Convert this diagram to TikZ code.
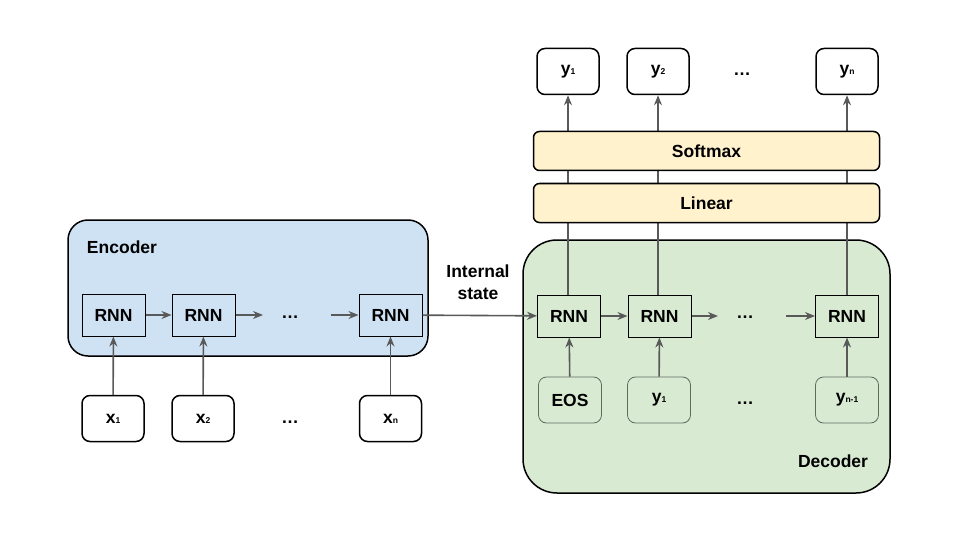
\documentclass[tikz,border=0pt]{standalone}
\usepackage{fontspec}
\setmainfont{Liberation Sans}
\usetikzlibrary{arrows.meta}
\definecolor{encfill}{HTML}{CFE2F3}
\definecolor{decfill}{HTML}{D9EAD3}
\definecolor{linfill}{HTML}{FFF2CC}
\definecolor{arrowgrey}{HTML}{595959}
\definecolor{inborder}{HTML}{5F6B5C}
\newcommand\sbs[1]{{\fontsize{8.5}{9}\selectfont #1}}
\tikzset{
  lbl/.style={font=\fontsize{17.5}{21}\selectfont\bfseries},
  rnnbox/.style={draw=black, line width=1pt, minimum width=63pt, minimum height=42pt, inner sep=0pt, lbl},
  iobox/.style={draw=black, line width=1.5pt, rounded corners=8pt, fill=white, minimum width=62pt, minimum height=46pt, inner sep=0pt, lbl},
  decin/.style={draw=inborder, line width=0.8pt, rounded corners=8pt, minimum width=63pt, minimum height=46pt, inner sep=0pt, lbl},
  layer/.style={draw=black, line width=1.5pt, rounded corners=6pt, fill=linfill, minimum width=346pt, minimum height=39pt, inner sep=0pt, lbl},
  conn/.style={draw=arrowgrey, line width=1.6pt, -{Stealth[length=10pt,width=8pt]}},
  dots/.style={lbl}
}
\begin{document}
\begin{tikzpicture}[x=1pt,y=-1pt]
\useasboundingbox (0,0) rectangle (960,540);
% containers
\node[draw=black, line width=1.5pt, rounded corners=20pt, fill=encfill, minimum width=360pt, minimum height=136pt, inner sep=0pt] (enc) at (248,288) {};
\node[draw=black, line width=1.5pt, rounded corners=34pt, fill=decfill, minimum width=367pt, minimum height=253pt, inner sep=0pt] (dec) at (706.5,366.5) {};
\node[lbl] (enclbl) at (122,247) {Encoder};
\node[lbl] (declbl) at (833,461) {Decoder};
% encoder
\node[rnnbox] (e1) at (113.5,315) {RNN};
\node[rnnbox] (e2) at (203.5,315) {RNN};
\node[rnnbox] (e3) at (390.5,315) {RNN};
\node[dots] (edots) at (290,317) {…};
\coordinate (e2end) at (263,315);
\coordinate (e3start) at (331,315);
\node[iobox] (x1) at (113,418.5) {x\sbs{1}};
\node[iobox] (x2) at (203,418.5) {x\sbs{2}};
\node[iobox] (xn) at (390.5,418.5) {x\sbs{n}};
\node[dots] (xdots) at (290,422) {…};
\draw[conn] (e1) -- (e2);
\draw[conn] (e2) -- (e2end);
\draw[conn] (e3start) -- (e3);
\draw[conn] (x1) -- (e1);
\draw[conn] (x2) -- (e2);
\draw[conn] (xn) -- (e3);
% internal state
\node[lbl, align=center, font=\fontsize{17.5}{22}\selectfont\bfseries] (istate) at (478,282) {Internal\\state};
% decoder
\node[rnnbox] (d1) at (569,316) {RNN};
\node[rnnbox] (d2) at (659.5,316) {RNN};
\node[rnnbox] (d3) at (847,316) {RNN};
\node[dots] (ddots) at (745,317) {…};
\coordinate (d2end) at (718,316);
\coordinate (d3start) at (786,316);
\node[decin] (i1) at (570,400) {EOS};
\node[decin] (i2) at (659,400) {y\sbs{1}};
\node[decin] (i3) at (847,400) {y\sbs{n-1}};
\node[dots] (idots) at (745,403) {…};
\draw[conn] (e3) -- (d1);
\draw[conn] (d1) -- (d2);
\draw[conn] (d2) -- (d2end);
\draw[conn] (d3start) -- (d3);
\draw[conn] (i1) -- (d1);
\draw[conn] (i2) -- (d2);
\draw[conn] (i3) -- (d3);
% outputs
\node[iobox] (y1) at (568,71.5) {y\sbs{1}};
\node[iobox] (y2) at (658,71.5) {y\sbs{2}};
\node[iobox] (yn) at (847,71.5) {y\sbs{n}};
\node[dots] (ydots) at (742,74) {…};
\draw[conn] (d1.north -| y1) -- (y1);
\draw[conn] (d2.north -| y2) -- (y2);
\draw[conn] (d3.north -| yn) -- (yn);
\node[layer] (lin) at (706.5,203) {Linear};
\node[layer] (soft) at (706.5,151) {Softmax};
\end{tikzpicture}
\end{document}
